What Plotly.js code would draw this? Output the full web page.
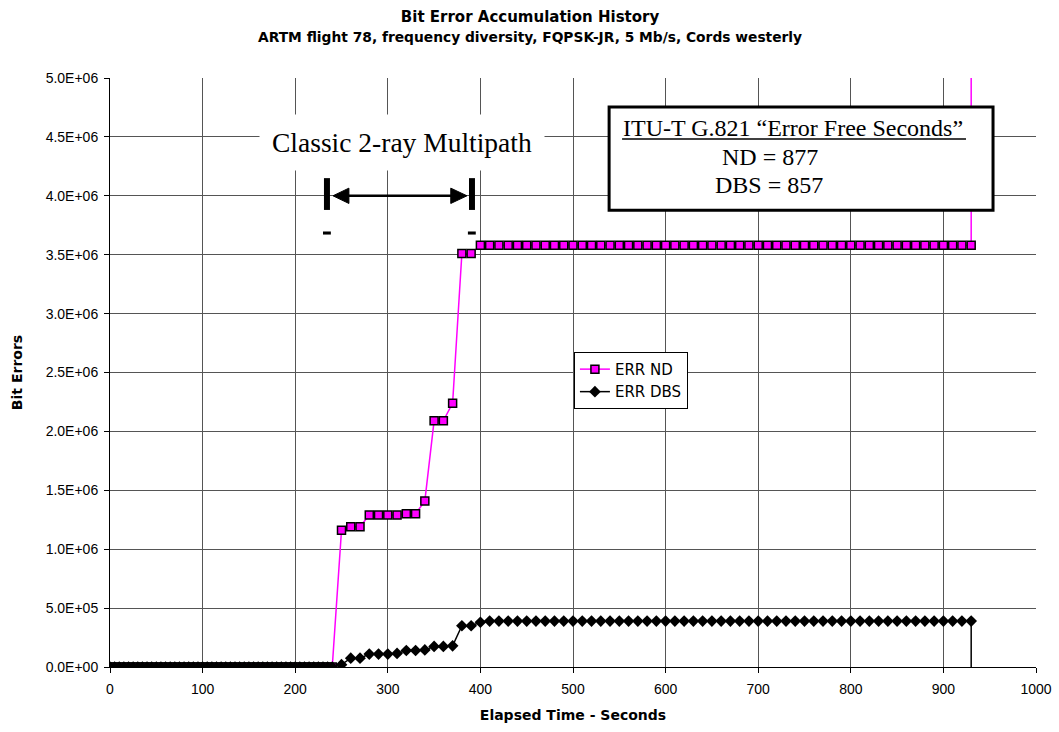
<!DOCTYPE html>
<html>
<head>
<meta charset="utf-8">
<script src="https://cdn.plot.ly/plotly-3.0.1.min.js"></script>
<style>html,body{margin:0;padding:0;background:#fff;}#chart{width:1059px;height:732px;}</style>
</head>
<body>
<div id="chart"></div>
<script>
// Elapsed time (seconds)
const time = [
  0,5,10,15,20,25,30,35,40,45,50,55,60,65,70,75,80,85,90,95,
  100,105,110,115,120,125,130,135,140,145,150,155,160,165,170,175,180,185,190,195,
  200,205,210,215,220,225,230,235,240,
  250,260,270,280,290,300,310,320,330,340,350,360,370,380,390,
  400,410,420,430,440,450,460,470,480,490,500,510,520,530,540,550,560,570,580,590,
  600,610,620,630,640,650,660,670,680,690,700,710,720,730,740,750,760,770,780,790,
  800,810,820,830,840,850,860,870,880,890,900,910,920,930,
  930
];
// Accumulated bit errors, no diversity
const errND = [
  0,0,0,0,0,0,0,0,0,0,0,0,0,0,0,0,0,0,0,0,
  0,0,0,0,0,0,0,0,0,0,0,0,0,0,0,0,0,0,0,0,
  0,0,0,0,0,0,0,0,0,
  1.16e6,1.19e6,1.19e6,1.29e6,1.29e6,1.29e6,1.29e6,1.30e6,1.30e6,1.41e6,2.09e6,2.09e6,2.24e6,3.51e6,3.51e6,
  3.58e6,3.58e6,3.58e6,3.58e6,3.58e6,3.58e6,3.58e6,3.58e6,3.58e6,3.58e6,3.58e6,3.58e6,3.58e6,3.58e6,3.58e6,3.58e6,3.58e6,3.58e6,3.58e6,3.58e6,
  3.58e6,3.58e6,3.58e6,3.58e6,3.58e6,3.58e6,3.58e6,3.58e6,3.58e6,3.58e6,3.58e6,3.58e6,3.58e6,3.58e6,3.58e6,3.58e6,3.58e6,3.58e6,3.58e6,3.58e6,
  3.58e6,3.58e6,3.58e6,3.58e6,3.58e6,3.58e6,3.58e6,3.58e6,3.58e6,3.58e6,3.58e6,3.58e6,3.58e6,3.58e6,
  6.0e6
];
// Accumulated bit errors, diversity best source
const errDBS = [
  0,0,0,0,0,0,0,0,0,0,0,0,0,0,0,0,0,0,0,0,
  0,0,0,0,0,0,0,0,0,0,0,0,0,0,0,0,0,0,0,0,
  0,0,0,0,0,0,0,0,0,
  0.02e6,0.075e6,0.075e6,0.11e6,0.11e6,0.11e6,0.115e6,0.14e6,0.14e6,0.145e6,0.175e6,0.175e6,0.18e6,0.35e6,0.35e6,
  0.38e6,0.39e6,0.39e6,0.39e6,0.39e6,0.39e6,0.39e6,0.39e6,0.39e6,0.39e6,0.39e6,0.39e6,0.39e6,0.39e6,0.39e6,0.39e6,0.39e6,0.39e6,0.39e6,0.39e6,
  0.39e6,0.39e6,0.39e6,0.39e6,0.39e6,0.39e6,0.39e6,0.39e6,0.39e6,0.39e6,0.39e6,0.39e6,0.39e6,0.39e6,0.39e6,0.39e6,0.39e6,0.39e6,0.39e6,0.39e6,
  0.39e6,0.39e6,0.39e6,0.39e6,0.39e6,0.39e6,0.39e6,0.39e6,0.39e6,0.39e6,0.39e6,0.39e6,0.39e6,0.39e6,
  -0.5e6
];
const xTicks = [0,100,200,300,400,500,600,700,800,900,1000];
const yTickVals = [0,5e5,1e6,1.5e6,2e6,2.5e6,3e6,3.5e6,4e6,4.5e6,5e6];
const yTickText = ['0.0E+00','5.0E+05','1.0E+06','1.5E+06','2.0E+06','2.5E+06','3.0E+06','3.5E+06','4.0E+06','4.5E+06','5.0E+06'];

const sans = 'Liberation Sans, Arial, sans-serif';
const wide = 'DejaVu Sans, Liberation Sans, sans-serif';
const serif = 'Liberation Serif, Times New Roman, serif';

const traces = [
  {x: time, y: errND, name: 'ERR ND', type: 'scatter', mode: 'lines+markers',
   line: {color: '#FF00FF', width: 1.5},
   marker: {symbol: 'square', size: 8, color: '#FF00FF', line: {color: '#000', width: 1.5}}},
  {x: time, y: errDBS, name: 'ERR DBS', type: 'scatter', mode: 'lines+markers',
   line: {color: '#000', width: 1.5},
   marker: {symbol: 'diamond', size: 9, color: '#000', line: {color: '#000', width: 0}}}
];

const layout = {
  width: 1059, height: 732,
  margin: {l: 110, r: 23, t: 78, b: 65},
  paper_bgcolor: '#fff', plot_bgcolor: '#fff',
  font: {family: sans, color: '#000', size: 13},
  title: {text: '<b>Bit Error Accumulation History</b>', font: {family: wide, size: 15, color: '#000'},
          x: 0.4536, xref: 'paper', xanchor: 'center', y: 1 - 17/732, yanchor: 'middle'},
  showlegend: true,
  legend: {x: 0.501, y: 0.535, xanchor: 'left', yanchor: 'top', bgcolor: '#fff',
           bordercolor: '#000', borderwidth: 1, font: {family: wide, size: 15}, tracegroupgap: 0},
  xaxis: {range: [0, 1000], tickvals: xTicks, ticks: 'outside', ticklen: 5, tickcolor: '#000',
          showgrid: true, gridcolor: '#555', gridwidth: 1, zeroline: false,
          showline: true, linecolor: '#000', linewidth: 1,
          tickfont: {family: sans, size: 14}, ticklabelstandoff: 4,
          title: {text: '<b>Elapsed Time - Seconds</b>', font: {family: wide, size: 14}, standoff: 14}},
  yaxis: {range: [0, 5e6], tickvals: yTickVals, ticktext: yTickText, ticks: 'outside', ticklen: 5, tickcolor: '#000',
          showgrid: true, gridcolor: '#555', gridwidth: 1, zeroline: false,
          showline: true, linecolor: '#000', linewidth: 1,
          tickfont: {family: sans, size: 14}, ticklabelstandoff: 3,
          title: {text: '<b>Bit Errors</b>', font: {family: wide, size: 14}, standoff: 19}},
  shapes: [
    // double arrow shaft
    {type: 'line', xref: 'x', yref: 'y', x0: 250, x1: 376, y0: 4.0e6, y1: 4.0e6, line: {color: '#000', width: 2.5}, layer: 'above'},
    {type: 'path', xref: 'x', yref: 'y', path: 'M 240.8 4.0e6 L 258 4.065e6 L 258 3.935e6 Z', fillcolor: '#000', line: {color: '#000', width: 1}, layer: 'above'},
    {type: 'path', xref: 'x', yref: 'y', path: 'M 385.5 4.0e6 L 368 4.065e6 L 368 3.935e6 Z', fillcolor: '#000', line: {color: '#000', width: 1}, layer: 'above'},
    // end bars
    {type: 'line', xref: 'x', yref: 'y', x0: 234.3, x1: 234.3, y0: 3.88e6, y1: 4.15e6, line: {color: '#000', width: 6}, layer: 'above'},
    {type: 'line', xref: 'x', yref: 'y', x0: 390.9, x1: 390.9, y0: 3.88e6, y1: 4.15e6, line: {color: '#000', width: 6}, layer: 'above'},
    // small dashes
    {type: 'rect', xref: 'x', yref: 'y', x0: 230, x1: 238.5, y0: 3.671e6, y1: 3.697e6, fillcolor: '#000', line: {width: 0}, layer: 'above'},
    {type: 'rect', xref: 'x', yref: 'y', x0: 386.5, x1: 395, y0: 3.671e6, y1: 3.697e6, fillcolor: '#000', line: {width: 0}, layer: 'above'},
    // G.821 box
    {type: 'rect', xref: 'x', yref: 'y', x0: 539, x1: 953.6, y0: 3.878e6, y1: 4.753e6, fillcolor: '#fff', line: {color: '#000', width: 3}, layer: 'above'},
    // underline
    {type: 'line', xref: 'x', yref: 'y', x0: 553, x1: 924.4, y0: 4.482e6, y1: 4.482e6, line: {color: '#000', width: 1.5}, layer: 'above'}
  ],
  annotations: [
    {text: '<b>ARTM flight 78, frequency diversity, FQPSK-JR, 5 Mb/s, Cords westerly</b>', xref: 'paper', yref: 'paper',
     x: 0.4536, y: 1 + 41/588.7, xanchor: 'center', yanchor: 'middle', showarrow: false, font: {family: wide, size: 13.8}},
    {text: 'Classic 2-ray Multipath', xref: 'x', yref: 'y', x: 315, y: 4.456e6, xanchor: 'center', yanchor: 'middle',
     showarrow: false, bgcolor: '#fff', borderpad: 12, font: {family: serif, size: 27.5, color: '#000'}},
    {text: 'ITU-T G.821 \u201cError Free Seconds\u201d', xref: 'x', yref: 'y', x: 737.6, y: 4.575e6, xanchor: 'center', yanchor: 'middle',
     showarrow: false, font: {family: serif, size: 24, color: '#000'}},
    {text: 'ND = 877', xref: 'x', yref: 'y', x: 712.7, y: 4.329e6, xanchor: 'center', yanchor: 'middle',
     showarrow: false, font: {family: serif, size: 24, color: '#000'}},
    {text: 'DBS = 857', xref: 'x', yref: 'y', x: 711.7, y: 4.091e6, xanchor: 'center', yanchor: 'middle',
     showarrow: false, font: {family: serif, size: 24, color: '#000'}}
  ]
};

Plotly.newPlot('chart', traces, layout, {displayModeBar: false, staticPlot: true});
</script>
</body>
</html>
